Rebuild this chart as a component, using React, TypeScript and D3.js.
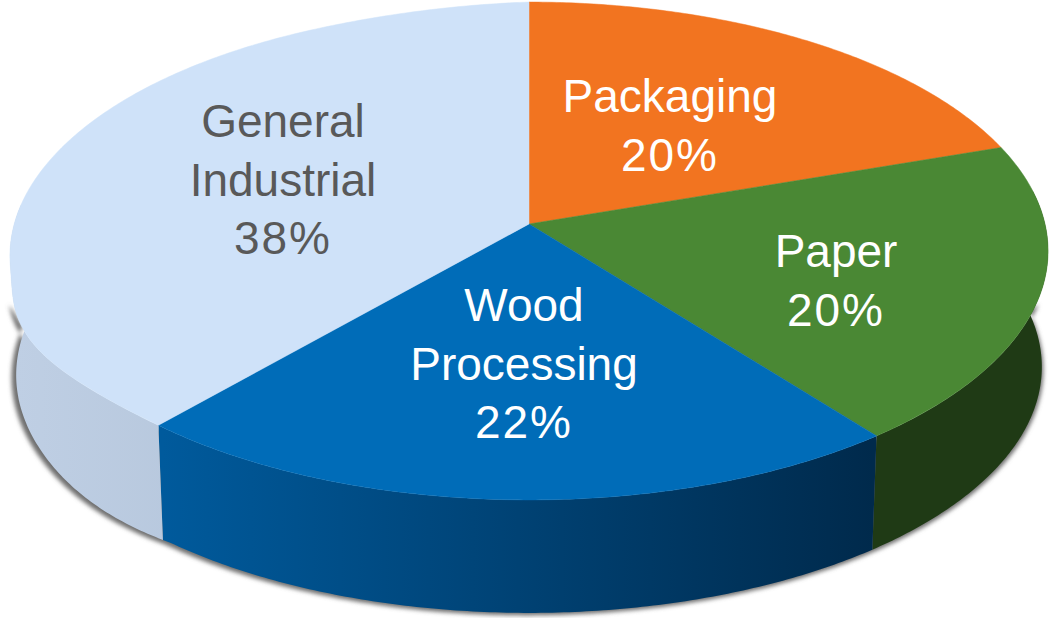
import React from "react";
import * as d3 from "d3";

const categories = ["Packaging", "Paper", "Wood Processing", "General Industrial"];
const shares = [20, 20, 22, 38];
const topColors = ["#f27420", "#4a8834", "#006cb8", "#cfe2f9"];
const sideStops: [string, string][] = [
  ["#8a4a16", "#8a4a16"],
  ["#1f3a15", "#1f3a15"],
  ["#005a9c", "#002a4c"],
  ["#bfcfe4", "#a8bad0"],
];
const labelLines = [
  ["Packaging", "20%"],
  ["Paper", "20%"],
  ["Wood", "Processing", "22%"],
  ["General", "Industrial", "38%"],
];
const labelAnchors = [
  { x: 670, y: 112 },
  { x: 836, y: 267 },
  { x: 524, y: 321 },
  { x: 283, y: 137 },
];
const labelColors = ["#ffffff", "#ffffff", "#ffffff", "#595959"];

const WIDTH = 1051;
const HEIGHT = 618;
const CX = 529;
const CY = 224;
const RADIUS_X = 516;
const RADIUS_Y = 246;
const TILT = 0.1084;
const DEPTH = 113;
const BASE_SCALE = 0.988;
const ANGLE_SKEW = 0.0195;
const SHADOW_TOP = 302;

type Pt = [number, number];

const clamp01 = (t: number) => Math.max(0, Math.min(1, t));
const easeSine = (t: number) => Math.sin((clamp01(t) * Math.PI) / 2);

// Perspective projection of a point on the unit disc; angle runs clockwise from 12 o'clock.
function discPoint(angle: number): Pt {
  const a = angle - ANGLE_SKEW * (1 - Math.cos(angle));
  const u = Math.sin(a);
  const v = -Math.cos(a);
  const w = 1 / (1 - TILT * v);
  return [CX + RADIUS_X * u * w, CY + RADIUS_Y * v * w];
}

// The rendered disc sags slightly on its left side.
function project(angle: number): Pt {
  const [x, y] = discPoint(angle);
  if (x >= CX) return [x, y];
  const lift = 5 * easeSine((CX - x) / 230) * (1 - clamp01((y - 270) / 60));
  const d = (y - 345) / 85;
  const bulge = Math.abs(d) < 1 ? 14 * Math.cos((d * Math.PI) / 2) ** 2 : 0;
  return [x - bulge, y + lift];
}

function projectBase(angle: number): Pt {
  const [x, y] = discPoint(angle);
  const bx = CX + (x - CX) * BASE_SCALE;
  const by = CY + DEPTH + 3.3 + (y - CY) * BASE_SCALE;
  return [bx, by + 8 * easeSine((170 - bx) / 120)];
}

function samples(a0: number, a1: number, step = 0.01): number[] {
  const n = Math.max(2, Math.ceil((a1 - a0) / step));
  const scale = d3.scaleLinear().domain([0, n]).range([a0, a1]);
  return d3.range(n + 1).map((i) => scale(i));
}

const linePath = d3.line<Pt>();
const closed = (pts: Pt[]) => (linePath(pts) as string) + "Z";

export default function App() {
  const arcs = d3.pie<number>().sort(null)(shares);

  // Only the part of the wall facing the viewer is visible: from the right edge, round the front, to the left edge.
  const wallFrom = Math.PI / 2 - 0.12;
  const wallTo = (3 * Math.PI) / 2 + 0.12;
  const wallTurn = samples(wallFrom, wallTo);

  // The shadow follows the lower part of the wall only, so it never shows above the top face.
  const silhouette: Pt[] = [
    ...wallTurn.map(project).filter(([, y]) => y > SHADOW_TOP),
    ...wallTurn.slice().reverse().map(projectBase).filter(([, y]) => y > SHADOW_TOP),
  ];

  return (
    <svg
      width={WIDTH}
      height={HEIGHT}
      viewBox={`0 0 ${WIDTH} ${HEIGHT}`}
      style={{ position: "absolute", left: 0, top: 0, background: "#ffffff" }}
    >
      <defs>
        <filter id="soft" x="-5%" y="-5%" width="110%" height="110%">
          <feGaussianBlur stdDeviation="2" />
        </filter>
        {arcs.map((a, i) => {
          const xs = samples(a.startAngle, a.endAngle).map((t) => projectBase(t)[0]);
          const [x0, x1] = d3.extent(xs) as [number, number];
          return (
            <linearGradient key={i} id={`wall-${i}`} gradientUnits="userSpaceOnUse" x1={x0} x2={x1} y1={0} y2={0}>
              <stop offset="0" stopColor={sideStops[i][0]} />
              <stop offset="1" stopColor={sideStops[i][1]} />
            </linearGradient>
          );
        })}
      </defs>

      {/* soft shadow under the wall */}
      <path
        d={closed(silhouette.map(([x, y]) => [CX - 1.5 + (x - CX) * 1.006, y + 2.5] as Pt))}
        fill="#707070"
        filter="url(#soft)"
      />

      {/* side walls */}
      {arcs.map((a, i) => {
        const a0 = Math.max(a.startAngle, wallFrom);
        const a1 = Math.min(a.endAngle, wallTo);
        if (a1 <= a0) return null;
        const ts = samples(a0, a1);
        const pts = [...ts.map(project), ...ts.slice().reverse().map(projectBase)];
        return <path key={categories[i]} d={closed(pts)} fill={`url(#wall-${i})`} />;
      })}

      {/* top face */}
      {arcs.map((a, i) => {
        const pts: Pt[] = [[CX, CY], ...samples(a.startAngle, a.endAngle).map(project)];
        return (
          <path key={categories[i]} d={closed(pts)} fill={topColors[i]} stroke={topColors[i]} strokeWidth={0.5} />
        );
      })}

      {/* slice labels */}
      {labelLines.map((lines, i) => (
        <text
          key={i}
          x={labelAnchors[i].x}
          y={labelAnchors[i].y}
          textAnchor="middle"
          fontFamily="'Liberation Sans', Arial, sans-serif"
          fontSize={46}
          fill={labelColors[i]}
        >
          {lines.map((line, j) => (
            <tspan
              key={j}
              x={labelAnchors[i].x}
              dy={j === 0 ? 0 : 58.5}
              letterSpacing={line.endsWith("%") ? 1.9 : 0}
            >
              {line}
            </tspan>
          ))}
        </text>
      ))}
    </svg>
  );
}
